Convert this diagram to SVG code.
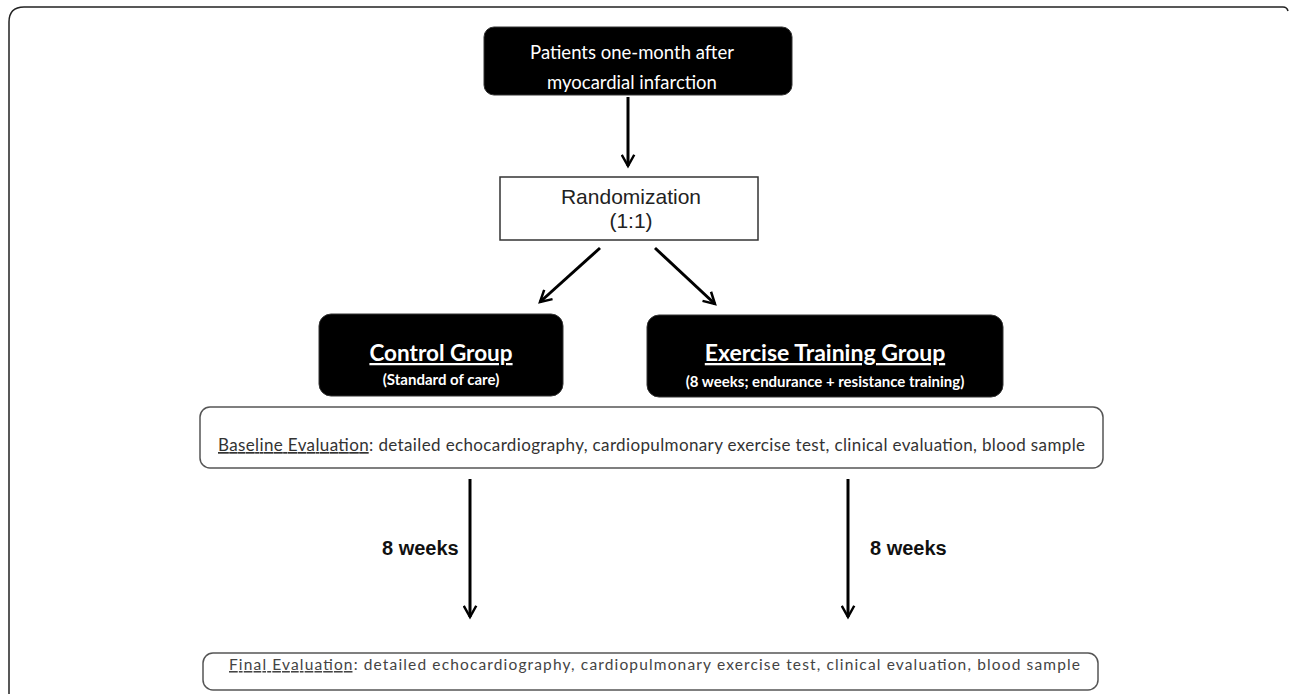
<svg xmlns="http://www.w3.org/2000/svg" width="1292" height="694" viewBox="0 0 1292 694">
<defs>
<style>
.blk{fill:#000;stroke:#333;stroke-width:1}
.wbox{fill:#fff;stroke:#555;stroke-width:1.5}
.cal{font-family:Lato,"Open Sans",sans-serif}
.ar{font-family:"Liberation Sans",Arial,sans-serif}
.conn{stroke:#000;stroke-width:3;fill:none;marker-end:url(#ah)}
</style>
<marker id="ah" viewBox="0 0 12 12" refX="10" refY="6" markerWidth="5" markerHeight="5" orient="auto" markerUnits="strokeWidth">
<path d="M1,1 L10,6 L1,11" fill="none" stroke="#000" stroke-width="2"/>
</marker>
</defs>
<rect width="1292" height="694" fill="#fff"/>
<path d="M9,694 L9,22 Q9,7 24,7 L1283,7 Q1287,7 1288,11" fill="none" stroke="#222" stroke-width="1.5"/>
<g id="patients">
<rect class="blk" x="484" y="27" width="308" height="68" rx="10"/>
<text class="cal" x="632" y="59" font-size="18.5" fill="#fff" text-anchor="middle">Patients one-month after</text>
<text class="cal" x="632" y="89" font-size="18.5" fill="#fff" text-anchor="middle">myocardial infarction</text>
</g>
<g id="randomization">
<rect x="500" y="177" width="258" height="63" fill="#fff" stroke="#333" stroke-width="1.5"/>
<text class="ar" x="631" y="204" font-size="21" fill="#222" text-anchor="middle">Randomization</text>
<text class="ar" x="631" y="228" font-size="21" fill="#222" text-anchor="middle">(1:1)</text>
</g>
<g id="control">
<rect class="blk" x="319" y="314" width="244" height="82" rx="12"/>
<text class="cal" x="441" y="361" font-size="22.5" font-weight="bold" fill="#fff" text-anchor="middle" text-decoration="underline">Control Group</text>
<text class="cal" x="441" y="385" font-size="15" font-weight="bold" fill="#fff" text-anchor="middle">(Standard of care)</text>
</g>
<g id="exercise">
<rect class="blk" x="647" y="315" width="356" height="82" rx="12"/>
<text class="cal" x="825" y="361" font-size="23" font-weight="bold" fill="#fff" text-anchor="middle" text-decoration="underline">Exercise Training Group</text>
<text class="cal" x="825" y="387" font-size="15" font-weight="bold" fill="#fff" text-anchor="middle">(8 weeks; endurance + resistance training)</text>
</g>
<g id="baseline">
<rect class="wbox" x="200" y="407" width="903" height="61" rx="10"/>
<text class="cal" x="218" y="451" font-size="17" fill="#333" textLength="867"><tspan text-decoration="underline">Baseline Evaluation</tspan>: detailed echocardiography, cardiopulmonary exercise test, clinical evaluation, blood sample</text>
</g>
<g id="final">
<rect class="wbox" x="203" y="653" width="895" height="37" rx="10"/>
<text class="cal" x="229" y="670" font-size="15.5" fill="#444" textLength="851"><tspan text-decoration="underline">Final Evaluation</tspan>: detailed echocardiography, cardiopulmonary exercise test, clinical evaluation, blood sample</text>
</g>
<g id="connectors">
<line class="conn" x1="628" y1="97" x2="628" y2="166"/>
<line class="conn" x1="600" y1="248" x2="540" y2="302"/>
<line class="conn" x1="655" y1="248" x2="715" y2="304"/>
<line class="conn" x1="470" y1="479" x2="470" y2="617"/>
<line class="conn" x1="848" y1="479" x2="848" y2="617"/>
<text class="ar" x="382" y="555" font-size="20" font-weight="bold" fill="#111">8 weeks</text>
<text class="ar" x="870" y="555" font-size="20" font-weight="bold" fill="#111">8 weeks</text>
</g>
</svg>
